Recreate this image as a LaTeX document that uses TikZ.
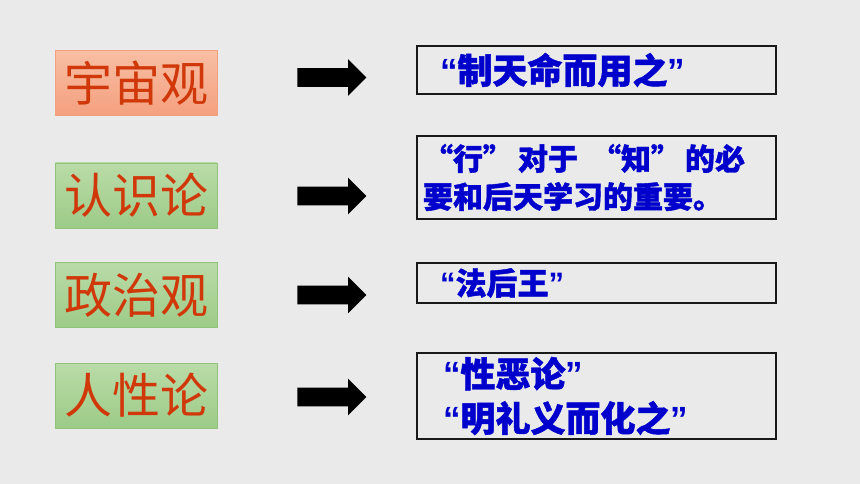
\documentclass[tikz,border=0pt]{standalone}
\usepackage{fontspec}
\newfontfamily\cjk{Noto Sans CJK SC}
\newfontfamily\cjkheavy[BoldFeatures={FakeBold=1.3}]{Noto Sans CJK SC}
\newfontfamily\cjkfw[RawFeature=+fwid,BoldFeatures={FakeBold=1.3}]{Noto Sans CJK SC}
\newfontfamily\quo{Liberation Sans}
\newcommand{\oq}{{\quo\bfseries “}}
\newcommand{\cq}{{\quo\bfseries ”}}
\usetikzlibrary{shapes.arrows,positioning}
\definecolor{paper}{HTML}{EAEAEA}
\definecolor{topicred}{HTML}{D0380A}
\definecolor{orangetop}{HTML}{F8BEA3}
\definecolor{orangebot}{HTML}{F4A07F}
\definecolor{orangeedge}{HTML}{F3A07E}
\definecolor{greentop}{HTML}{BADBA8}
\definecolor{greenbot}{HTML}{9DCB87}
\definecolor{greenedge}{HTML}{8FC47A}
\definecolor{claimblue}{HTML}{0000CC}

\begin{document}
\begin{tikzpicture}[x=1pt,y=-1pt
  ,inner sep=0pt
  ,semithick]
  \tikzstyle{topic}
  =[line width=0.8pt,minimum width=162pt,minimum height=65pt
  ,text=topicred,font=\cjk\fontsize{48}{48}\selectfont]
  \tikzstyle{orangebox}=[topic,draw=orangeedge
  ,top color=orangetop,bottom color=orangebot]
  \tikzstyle{greenbox}=[topic,draw=greenedge
  ,top color=greentop,bottom color=greenbot]
  \tikzstyle{pointer}=[single arrow,fill=black,anchor=tail
  ,inner xsep=0pt,inner ysep=9pt,minimum height=69pt
  ,single arrow head extend=9pt,single arrow tip angle=90]
  \tikzstyle{claim}=[draw=black!90,line width=2pt,minimum width=359pt
  ,align=left,text=claimblue]

  \useasboundingbox (0,0) rectangle (860,484);
  \fill[paper] (0,0) rectangle (860,484);

  % left column
  \node[orangebox](cosmos)   at (136,83)    {宇宙观};
  \node[greenbox] (episteme) at (136,195.5) {认识论};
  \node[greenbox] (politics) at (136,295)   {政治观};
  \node[greenbox] (nature)   at (136,395.5) {人性论};

  % block arrows
  \node[pointer](p1) at (297,77.5) {};
  \node[pointer](p2) at (297,196)  {};
  \node[pointer](p3) at (297,295)  {};
  \node[pointer](p4) at (297,397)  {};

  % right column
  \node[claim,minimum height=48pt,inner xsep=23pt,text width=313pt
  ,font=\cjkheavy\bfseries\fontsize{35}{44.5}\selectfont]
  (fate) at (596.5,70) {\oq 制天命而用之\cq};
  \node[claim,minimum height=83pt,inner xsep=6pt,text width=347pt
  ,font=\cjkfw\bfseries\fontsize{30}{38}\selectfont]
  (practice) at (596.5,177.5)
  {“行”\hspace{5pt}对于\hspace{13pt}“知”\hspace{4pt}的必\\要和后天学习的重要。};
  \node[claim,minimum height=40pt,inner xsep=23pt,text width=313pt
  ,font=\cjkheavy\bfseries\fontsize{31}{38}\selectfont]
  (kings) at (596.5,283) {\oq 法后王\cq};
  \node[claim,minimum height=86pt,inner xsep=26pt,text width=307pt
  ,font=\cjkheavy\bfseries\fontsize{35}{44.5}\selectfont]
  (evil) at (596.5,396) {\oq 性恶论\cq\\\oq 明礼义而化之\cq};

\end{tikzpicture}
\end{document}
